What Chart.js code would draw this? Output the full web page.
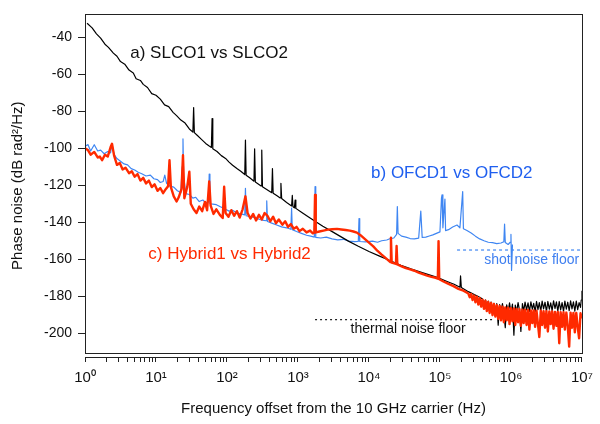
<!DOCTYPE html>
<html>
<head>
<meta charset="utf-8">
<script src="https://cdn.jsdelivr.net/npm/chart.js@4.4.1/dist/chart.umd.min.js"></script>
<style>
  html, body { margin: 0; padding: 0; background: #fff; }
  #wrap { width: 600px; height: 424px; }
</style>
</head>
<body>
<div id="wrap"><canvas id="pn"></canvas></div>
<script>
// a) SLCO1 vs SLCO2 (black)
const slcoFreq = [1.07, 1.26, 1.45, 1.66, 1.91, 2.14, 2.51, 2.82, 3.16, 3.63, 4.17, 4.79, 5.25, 6.03, 6.61, 7.59, 8.71,
  10, 11.5, 13.2, 15.1, 17.4, 19.5, 22.4, 25.7, 29.5, 33.1, 33.9, 34.7, 38.0, 43.7, 50.1, 56.2, 60.3, 61.7, 63.1, 72.4, 83.2, 95.5,
  107, 120, 138, 158, 178, 182, 186, 209, 240, 245, 251, 302, 309, 316, 363, 427, 437, 447, 501, 562, 575, 589, 692, 813, 832, 851, 891, 912, 933,
  1120, 1410, 1740, 2240, 2950, 3890, 5130, 7080, 10000, 14100, 20400, 28200, 39800, 56200, 91200,
  126000, 158000, 191000, 195000, 200000, 251000, 363000,
  3.98e5, 4.17e5, 4.37e5, 4.57e5, 4.79e5, 5.01e5, 5.25e5, 5.50e5, 5.75e5, 6.03e5,
  6.31e5, 6.61e5, 6.92e5, 7.24e5, 7.59e5, 7.94e5, 8.32e5, 8.71e5, 9.12e5, 9.55e5,
  1.00e6, 1.05e6, 1.10e6, 1.15e6, 1.20e6, 1.26e6, 1.32e6, 1.38e6, 1.45e6, 1.51e6,
  1.58e6, 1.66e6, 1.74e6, 1.82e6, 1.91e6, 2.00e6, 2.09e6, 2.19e6, 2.29e6, 2.40e6,
  2.51e6, 2.63e6, 2.75e6, 2.88e6, 3.02e6, 3.16e6, 3.31e6, 3.47e6, 3.63e6, 3.80e6,
  3.98e6, 4.17e6, 4.37e6, 4.57e6, 4.79e6, 5.01e6, 5.25e6, 5.50e6, 5.75e6, 6.03e6,
  6.31e6, 6.61e6, 6.92e6, 7.24e6, 7.59e6, 7.94e6, 8.32e6, 8.71e6, 9.12e6, 9.55e6,
  9.77e6, 1.0e7];
const slcoNoise = [-32.5, -35.0, -38.2, -40.5, -43.8, -45.5, -48.6, -50.3, -53.2, -54.6, -57.8, -59.3, -62.5, -63.4, -65.5, -67.2, -70.5,
  -71.4, -73.5, -76.6, -77.5, -80.6, -82.4, -84.8, -86.4, -89.6, -91.3, -78.0, -91.6, -93.0, -95.2, -97.4, -98.8, -99.6, -84.0, -100.3, -101.8, -104.0, -105.5,
  -107.5, -109.2, -111.0, -112.6, -114.2, -95.6, -114.6, -116.0, -117.8, -100.3, -118.2, -120.4, -101.0, -120.8, -122.3, -124.0, -111.0, -124.3, -125.6, -126.9, -119.0, -127.2, -129.3, -131.2, -125.5, -131.6, -132.2, -128.0, -132.5,
  -134.6, -137.2, -139.5, -142.2, -144.8, -147.5, -150.2, -153.0, -155.8, -158.3, -160.9, -163.2, -165.3, -167.2, -169.8,
  -172.0, -173.5, -175.1, -169.0, -175.3, -177.5, -180.5,
  -181.5, -184.2, -182.0, -185.3, -182.6, -186.0, -183.1, -187.4, -183.8, -188.0,
  -184.0, -195.6, -184.5, -188.2, -184.0, -189.0, -197.0, -184.6, -188.5, -183.6,
  -188.8, -184.2, -201.0, -184.8, -188.4, -183.4, -187.6, -199.0, -184.0, -188.0,
  -183.2, -187.4, -183.6, -188.2, -183.0, -187.0, -183.8, -188.4, -182.8, -187.2,
  -183.4, -188.0, -182.6, -186.8, -183.2, -188.2, -182.8, -187.0, -183.6, -187.8,
  -182.4, -186.6, -183.0, -188.0, -182.8, -187.4, -183.4, -188.2, -182.6, -187.0,
  -183.2, -187.8, -182.4, -186.8, -183.0, -188.0, -182.6, -187.2, -183.4, -186.0,
  -182.0, -177.0];

// b) OFCD1 vs OFCD2 (blue)
const ofcdFreq = [1.0, 1.10, 1.20, 1.35, 1.51, 1.66, 1.86, 2.09, 2.29, 2.40, 2.57, 2.82, 3.16, 3.55, 3.98, 4.47, 5.01, 5.62, 6.31, 7.24, 8.32, 9.33,
  10.5, 11.5, 12.6, 13.3, 14.1, 15.8, 17.8, 20.0, 22.4, 23.4, 24.0, 24.5, 26.3, 29.5, 33.1, 36.3, 40.7, 45.7, 50.1, 55.0, 56.2, 57.5, 63.1, 70.8, 79.4, 95.5,
  107, 120, 138, 158, 178, 182, 186, 214, 251, 288, 331, 355, 363, 372, 427, 501, 589, 692, 794, 813, 832, 955,
  1120, 1320, 1510, 1700, 1740, 1780, 2090, 2510, 3020, 3630, 4370, 5250, 6310, 7080, 7240, 7410, 8910,
  11200, 13200, 15100, 17800, 20000, 22400, 24500, 25100, 25700, 28800, 33100, 38000, 43700, 50100, 53700, 56200, 63100, 70800, 79400, 89100,
  100000, 105000, 107000, 110000, 117500, 120000, 132000, 151000, 174000, 191000, 209000, 214000, 240000, 275000, 316000, 363000, 417000, 479000, 550000, 631000, 724000, 794000, 813000, 832000, 912000, 977000,
  1.0e6, 1.02e6, 1.05e6];
const ofcdNoise = [-99.0, -98.0, -101.5, -98.1, -101.5, -101.0, -103.0, -101.8, -102.5, -97.6, -103.5, -105.6, -107.0, -108.5, -109.0, -111.0, -111.8, -113.0, -113.8, -115.0, -114.5, -116.5,
  -117.0, -118.5, -118.0, -114.5, -119.0, -120.5, -121.0, -123.0, -124.0, -110.0, -95.0, -115.0, -124.5, -125.0, -127.0, -126.5, -128.8, -128.0, -129.5, -129.0, -114.0, -130.0, -130.2, -130.5, -131.5, -133.0,
  -134.0, -133.5, -135.0, -135.5, -136.0, -121.7, -136.5, -137.0, -137.5, -138.5, -139.0, -139.2, -128.4, -139.6, -140.5, -141.5, -142.5, -143.0, -143.8, -132.4, -144.0, -145.0,
  -146.0, -147.0, -147.5, -148.0, -120.8, -148.2, -148.5, -148.0, -149.0, -149.5, -149.2, -150.2, -150.5, -150.3, -138.0, -150.4, -150.6,
  -150.2, -150.8, -150.0, -149.6, -148.8, -148.5, -146.5, -131.5, -146.0, -147.5, -148.0, -148.8, -149.0, -148.6, -134.0, -148.2, -148.0, -147.4, -146.8, -146.0,
  -145.2, -127.0, -125.2, -143.0, -127.5, -144.5, -144.0, -142.6, -141.5, -143.0, -123.4, -143.5, -144.5, -145.8, -147.5, -149.0, -150.0, -150.8, -151.0, -151.5, -151.2, -150.5, -141.0, -151.0, -152.0, -150.8,
  -146.6, -166.0, -152.0];

// c) Hybrid1 vs Hybrid2 (red)
const hybFreq = [1.0, 1.10, 1.20, 1.35, 1.51, 1.62, 1.74, 1.91, 2.09, 2.29, 2.40, 2.57, 2.82, 3.09, 3.39, 3.72, 4.17, 4.57, 5.01, 5.50, 6.03, 6.61, 7.24, 7.94, 8.71, 9.55,
  10.5, 11.5, 12.6, 13.8, 14.8, 15.5, 16.2, 17.8, 19.5, 20.9, 22.9, 24.0, 25.1, 27.5, 29.5, 30.9, 33.9, 37.2, 40.7, 44.7, 49.0, 52.5, 56.2, 58.9, 64.6, 70.8, 79.4, 87.1, 91.2, 95.5,
  105, 115, 126, 138, 151, 166, 182, 195, 214, 234, 257, 282, 309, 339, 372, 407, 447, 490, 537, 603, 661, 724, 794, 871, 955,
  1050, 1170, 1320, 1480, 1620, 1700, 1740, 1780, 2000, 2290, 2630, 3020, 3550, 4070, 4680, 5370, 6030, 6760, 7590, 8710,
  10000, 11500, 13200, 15100, 17400, 20000, 20400, 20900, 24000, 24500, 25100, 28800, 33100, 38000, 43700, 50100, 57500, 66100, 75900, 87100, 93300, 95500, 97700,
  112000, 132000, 155000, 182000, 214000,
  2.51e5, 2.63e5, 2.75e5, 2.88e5, 3.02e5, 3.16e5, 3.31e5, 3.47e5, 3.63e5, 3.80e5,
  3.98e5, 4.17e5, 4.37e5, 4.57e5, 4.79e5, 5.01e5, 5.25e5, 5.50e5, 5.75e5, 6.03e5,
  6.31e5, 6.61e5, 6.92e5, 7.24e5, 7.59e5, 7.94e5, 8.32e5, 8.71e5, 9.12e5, 9.55e5,
  1.00e6, 1.05e6, 1.10e6, 1.15e6, 1.20e6, 1.26e6, 1.32e6, 1.38e6, 1.45e6, 1.51e6,
  1.58e6, 1.66e6, 1.74e6, 1.82e6, 1.91e6, 2.00e6, 2.09e6, 2.19e6, 2.29e6, 2.40e6,
  2.51e6, 2.63e6, 2.75e6, 2.88e6, 3.02e6, 3.16e6, 3.31e6, 3.47e6, 3.63e6, 3.80e6,
  3.98e6, 4.17e6, 4.37e6, 4.57e6, 4.79e6, 5.01e6, 5.25e6, 5.50e6, 5.75e6, 6.03e6,
  6.31e6, 6.61e6, 6.92e6, 7.24e6, 7.59e6, 7.94e6, 8.32e6, 8.71e6, 9.12e6, 9.55e6,
  1.0e7];
const hybNoise = [-100.0, -101.0, -103.5, -102.0, -105.0, -104.5, -106.5, -103.5, -104.5, -99.5, -97.6, -104.0, -109.0, -108.0, -111.5, -110.5, -113.5, -112.5, -115.4, -114.0, -117.5, -116.0, -119.0, -117.5, -121.0, -119.5,
  -123.0, -121.5, -124.3, -122.0, -120.5, -106.5, -121.0, -126.0, -128.8, -126.5, -122.0, -103.8, -127.0, -121.0, -112.7, -130.0, -133.0, -135.0, -131.5, -134.0, -129.0, -133.5, -118.0, -131.0, -135.5, -133.0, -136.0, -137.7, -120.8, -135.0,
  -137.0, -133.5, -136.5, -134.0, -137.5, -133.0, -126.0, -135.0, -138.0, -135.5, -139.0, -136.0, -138.5, -135.0, -136.5, -139.5, -137.0, -140.5, -138.5, -141.3, -139.5, -142.5, -141.0, -143.5, -142.5,
  -144.8, -143.5, -145.5, -144.5, -146.0, -145.5, -125.2, -145.5, -145.0, -144.5, -144.0, -143.8, -143.6, -143.9, -144.2, -144.5, -145.0, -145.6, -147.0, -149.0,
  -151.0, -153.0, -155.5, -157.5, -159.5, -161.5, -148.4, -161.8, -162.5, -152.8, -162.8, -163.8, -164.8, -165.5, -166.2, -167.2, -168.0, -168.8, -169.5, -170.0, -170.5, -150.2, -170.8,
  -172.0, -173.3, -174.5, -176.0, -177.0,
  -178.5, -180.5, -178.8, -182.0, -179.6, -183.2, -180.2, -184.5, -181.0, -185.6,
  -181.8, -186.8, -182.4, -188.0, -183.0, -189.0, -183.6, -190.2, -184.2, -191.0,
  -184.8, -192.2, -185.2, -193.0, -185.6, -194.0, -186.0, -193.0, -186.2, -195.0,
  -186.4, -193.5, -186.6, -195.5, -186.8, -194.0, -187.0, -196.0, -187.2, -194.5,
  -187.2, -195.5, -187.4, -198.0, -187.6, -194.5, -187.6, -196.5, -187.8, -195.0,
  -202.0, -187.8, -195.5, -188.0, -197.0, -188.0, -199.0, -188.2, -195.0, -188.2,
  -197.5, -188.4, -196.0, -188.4, -205.4, -188.6, -196.5, -188.6, -198.0, -188.8,
  -196.0, -207.2, -188.8, -197.0, -189.0, -199.5, -189.0, -196.5, -202.7, -189.2,
  -192.0];

// noise floors (dashed)
const shotFloorFreq = [1.74e5, 1.0e7];
const shotFloorLevel = [-155, -155];
const thermalFloorFreq = [1.74e3, 5.9e5];
const thermalFloorLevel = [-192.6, -192.6];

// axis ticks
const xDecades = [1, 10, 100, 1e3, 1e4, 1e5, 1e6, 1e7];
const xTickLabels = ['10\u2070', '10\u00b9', '10\u00b2', '10\u00b3', '10\u2074', '10\u2075', '10\u2076', '10\u2077'];
const xMinorSteps = [2, 3, 4, 5, 6, 7, 8, 9];
const yTicks = [-200, -180, -160, -140, -120, -100, -80, -60, -40];

const BLUE = '#3f86f2';
const RED = '#ff2a00';

const notes = [
  { text: 'a) SLCO1 vs SLCO2', f: 4.34, v: -48.6, color: '#111', size: 17 },
  { text: 'b) OFCD1 vs OFCD2', f: 1.07e4, v: -113.3, color: '#1f5fef', size: 17 },
  { text: 'c) Hybrid1 vs Hybrid2', f: 7.8, v: -157.4, color: RED, size: 17 },
  { text: 'shot noise floor', f: 4.2e5, v: -160.3, color: '#3f7ff0', size: 14 },
  { text: 'thermal noise floor', f: 5.5e3, v: -197.8, color: '#111', size: 14 }
];

function pts(xs, ys) {
  return xs.map((x, i) => ({ x: x, y: ys[i] }));
}

const framePlugin = {
  id: 'frame',
  afterDatasetsDraw(chart) {
    const { ctx, chartArea: a, scales } = chart;
    const frameBottom = a.bottom - 4;
    ctx.save();
    ctx.strokeStyle = '#222';
    ctx.lineWidth = 1;
    ctx.strokeRect(Math.round(a.left) + 0.5, Math.round(a.top) + 0.5,
      Math.round(a.right - a.left), Math.round(frameBottom - a.top));
    ctx.textBaseline = 'middle';
    ctx.textAlign = 'left';
    notes.forEach(n => {
      ctx.font = n.size + 'px "Liberation Sans", Arial, sans-serif';
      ctx.fillStyle = n.color;
      ctx.fillText(n.text, scales.x.getPixelForValue(n.f), scales.y.getPixelForValue(n.v));
    });
    ctx.restore();
  }
};

Chart.defaults.font.family = '"Liberation Sans", Arial, sans-serif';
Chart.defaults.color = '#111';

new Chart(document.getElementById('pn'), {
  type: 'line',
  data: {
    datasets: [
      { label: 'c) Hybrid1 vs Hybrid2', data: pts(hybFreq, hybNoise), borderColor: RED, borderWidth: 2.4 },
      { label: 'a) SLCO1 vs SLCO2', data: pts(slcoFreq, slcoNoise), borderColor: '#000', borderWidth: 1.2 },
      { label: 'b) OFCD1 vs OFCD2', data: pts(ofcdFreq, ofcdNoise), borderColor: BLUE, borderWidth: 1.2 },
      { label: 'shot noise floor', data: pts(shotFloorFreq, shotFloorLevel), borderColor: BLUE, borderWidth: 1.2, borderDash: [3, 3] },
      { label: 'thermal noise floor', data: pts(thermalFloorFreq, thermalFloorLevel), borderColor: '#222', borderWidth: 1.2, borderDash: [2, 3] }
    ]
  },
  options: {
    responsive: true,
    maintainAspectRatio: false,
    animation: false,
    parsing: false,
    elements: { point: { radius: 0 }, line: { tension: 0, fill: false, borderJoinStyle: 'round' } },
    layout: { padding: { top: 11, right: 12, left: 0, bottom: 0 } },
    plugins: { legend: { display: false }, tooltip: { enabled: false } },
    scales: {
      x: {
        type: 'logarithmic',
        min: 1,
        max: 1e7,
        afterFit(scale) { scale.height = 67; },
        afterBuildTicks(scale) {
          const t = [];
          xDecades.forEach((d, i) => {
            t.push({ value: d, major: true });
            if (i < xDecades.length - 1) xMinorSteps.forEach(m => t.push({ value: d * m }));
          });
          scale.ticks = t;
        },
        grid: { drawOnChartArea: false, drawTicks: true, tickLength: 5, color: '#222' },
        border: { display: true, color: '#222', width: 1 },
        ticks: {
          autoSkip: false,
          maxRotation: 0,
          padding: 7,
          color: '#111',
          font: { size: 15 },
          callback(value) {
            const i = xDecades.indexOf(value);
            return i >= 0 ? xTickLabels[i] : '';
          }
        },
        title: {
          display: true,
          text: 'Frequency offset from the 10 GHz carrier (Hz)',
          color: '#111',
          font: { size: 15 },
          padding: { top: 0, bottom: 6 }
        }
      },
      y: {
        min: -212.8,
        max: -27.7,
        afterFit(scale) { scale.width = 85; },
        afterBuildTicks(scale) { scale.ticks = yTicks.map(v => ({ value: v })); },
        grid: { drawOnChartArea: false, drawTicks: true, tickLength: 7, color: '#222' },
        border: { display: false },
        ticks: { padding: 6, color: '#111', font: { size: 14 } },
        title: {
          display: true,
          text: 'Phase noise (dB rad\u00b2/Hz)',
          color: '#111',
          font: { size: 15 },
          padding: { top: 9, bottom: 0 }
        }
      }
    }
  },
  plugins: [framePlugin]
});
</script>
</body>
</html>
